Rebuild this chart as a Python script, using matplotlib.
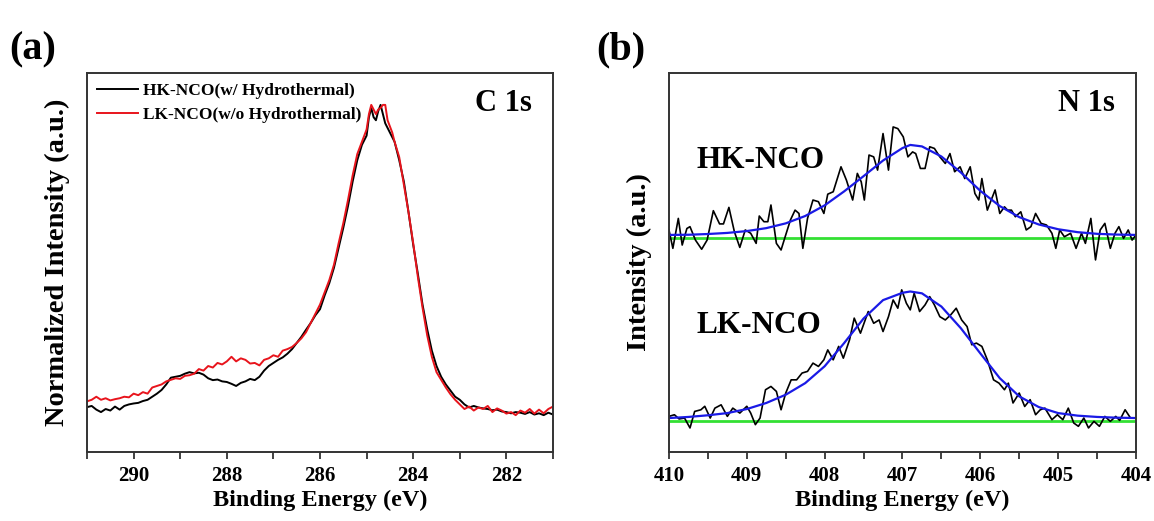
import matplotlib
matplotlib.use("Agg")
import matplotlib.pyplot as plt
from matplotlib.ticker import MultipleLocator

plt.rcParams['font.family'] = ['Liberation Serif', 'DejaVu Serif']
plt.rcParams['font.weight'] = 'bold'

# ---- (a) C 1s, normalized intensity ----
c1s_energy = [291.0, 290.9, 290.8, 290.7, 290.6, 290.5, 290.4, 290.3, 290.2, 290.1,
              290.0, 289.9, 289.8, 289.7, 289.6, 289.5, 289.4, 289.3, 289.2, 289.1,
              289.0, 288.9, 288.8, 288.7, 288.6, 288.5, 288.4, 288.3, 288.2, 288.1,
              288.0, 287.9, 287.8, 287.7, 287.6, 287.5, 287.4, 287.3, 287.2, 287.1,
              287.0, 286.9, 286.8, 286.7, 286.6, 286.5, 286.4, 286.3, 286.2, 286.1,
              286.0, 285.9, 285.8, 285.7, 285.6, 285.5, 285.4, 285.3, 285.2, 285.1,
              285.0, 284.95, 284.9, 284.85, 284.8, 284.75, 284.7, 284.65, 284.6, 284.55,
              284.5, 284.45, 284.4, 284.3, 284.2, 284.1, 284.0, 283.9, 283.8, 283.7,
              283.6, 283.5, 283.4, 283.3, 283.2, 283.1, 283.0, 282.9, 282.8, 282.7,
              282.6, 282.5, 282.4, 282.3, 282.2, 282.1, 282.0, 281.9, 281.8, 281.7,
              281.6, 281.5, 281.4, 281.3, 281.2, 281.1, 281.0]

hk_c1s = [0.016, 0.020, 0.008, 0.000, 0.010, 0.005, 0.018, 0.008, 0.020, 0.025,
          0.028, 0.030, 0.036, 0.040, 0.050, 0.060, 0.072, 0.090, 0.112, 0.115,
          0.118, 0.125, 0.130, 0.126, 0.128, 0.122, 0.110, 0.104, 0.106, 0.100,
          0.098, 0.092, 0.085, 0.095, 0.100, 0.108, 0.104, 0.115, 0.135, 0.150,
          0.160, 0.170, 0.178, 0.190, 0.205, 0.225, 0.245, 0.268, 0.290, 0.315,
          0.335, 0.380, 0.420, 0.470, 0.535, 0.600, 0.670, 0.750, 0.820, 0.870,
          0.900, 0.960, 0.990, 0.960, 0.950, 0.980, 1.000, 0.970, 0.940, 0.925,
          0.910, 0.895, 0.880, 0.820, 0.750, 0.650, 0.545, 0.450, 0.350, 0.270,
          0.200, 0.150, 0.115, 0.090, 0.070, 0.050, 0.040, 0.025, 0.015, 0.020,
          0.015, 0.012, 0.010, 0.006, 0.008, 0.002, 0.000, -0.004, 0.000, -0.002,
          -0.006, 0.000, -0.008, -0.004, -0.010, -0.002, -0.008]

lk_c1s = [0.035, 0.040, 0.050, 0.040, 0.045, 0.038, 0.042, 0.045, 0.050, 0.048,
          0.060, 0.055, 0.065, 0.060, 0.080, 0.085, 0.090, 0.100, 0.105, 0.110,
          0.108, 0.118, 0.120, 0.125, 0.140, 0.135, 0.150, 0.145, 0.160, 0.155,
          0.165, 0.180, 0.165, 0.175, 0.170, 0.158, 0.160, 0.152, 0.170, 0.175,
          0.185, 0.180, 0.200, 0.205, 0.212, 0.225, 0.240, 0.260, 0.290, 0.320,
          0.350, 0.390, 0.430, 0.480, 0.550, 0.615, 0.690, 0.770, 0.840, 0.880,
          0.920, 0.970, 1.000, 0.985, 0.970, 0.985, 0.990, 1.000, 1.000, 0.950,
          0.930, 0.910, 0.880, 0.830, 0.740, 0.650, 0.550, 0.440, 0.340, 0.250,
          0.180, 0.130, 0.105, 0.080, 0.058, 0.040, 0.025, 0.010, 0.018, 0.005,
          0.015, 0.010, 0.020, 0.000, 0.012, 0.005, -0.005, 0.000, -0.010, 0.005,
          -0.002, 0.010, -0.005, 0.008, -0.004, 0.010, 0.018]

# ---- (b) N 1s, raw spectra (relative to own baseline) ----
hk_n1s_energy = [410.00, 409.95, 409.88, 409.83, 409.77, 409.73, 409.66, 409.58, 409.51, 409.43,
                 409.35, 409.30, 409.23, 409.16, 409.09, 409.02, 408.95, 408.88, 408.84, 408.78,
                 408.73, 408.69, 408.62, 408.56, 408.50, 408.44, 408.38, 408.33, 408.28, 408.22,
                 408.15, 408.08, 408.01, 407.96, 407.89, 407.79, 407.72, 407.64, 407.58, 407.53,
                 407.49, 407.43, 407.37, 407.32, 407.25, 407.18, 407.12, 407.06, 406.99, 406.93,
                 406.87, 406.83, 406.77, 406.71, 406.65, 406.59, 406.52, 406.45, 406.39, 406.33,
                 406.26, 406.20, 406.13, 406.07, 406.02, 405.98, 405.91, 405.86, 405.81, 405.75,
                 405.69, 405.65, 405.60, 405.55, 405.48, 405.41, 405.35, 405.29, 405.22, 405.15,
                 405.08, 405.03, 404.98, 404.92, 404.84, 404.77, 404.70, 404.65, 404.58, 404.52,
                 404.46, 404.40, 404.33, 404.27, 404.22, 404.16, 404.10, 404.05, 404.00]
hk_n1s = [0.042, -0.058, 0.105, -0.040, 0.050, 0.060, -0.013, -0.063, -0.013, 0.147,
          0.075, 0.075, 0.165, 0.033, -0.053, 0.042, 0.024, -0.031, 0.118, 0.087,
          0.087, 0.178, -0.031, -0.067, 0.015, 0.096, 0.150, 0.132, -0.058, 0.105,
          0.205, 0.196, 0.132, 0.237, 0.250, 0.386, 0.313, 0.205, 0.350, 0.304,
          0.205, 0.450, 0.440, 0.368, 0.567, 0.368, 0.603, 0.594, 0.549, 0.440,
          0.467, 0.458, 0.377, 0.377, 0.495, 0.486, 0.440, 0.404, 0.458, 0.359,
          0.386, 0.322, 0.386, 0.241, 0.205, 0.322, 0.150, 0.205, 0.260, 0.132,
          0.168, 0.150, 0.150, 0.114, 0.141, 0.042, 0.060, 0.132, 0.078, 0.069,
          0.024, -0.058, 0.042, 0.005, 0.024, -0.058, 0.024, -0.031, 0.105, -0.121,
          0.042, 0.078, -0.058, 0.024, 0.060, -0.004, 0.042, -0.013, 0.015]

lk_n1s_energy = [410.00, 409.93, 409.87, 409.80, 409.73, 409.67, 409.59, 409.54, 409.47, 409.41,
                 409.33, 409.25, 409.18, 409.09, 409.00, 408.95, 408.89, 408.83, 408.76, 408.69,
                 408.62, 408.56, 408.50, 408.43, 408.36, 408.29, 408.22, 408.15, 408.08, 408.01,
                 407.96, 407.89, 407.82, 407.76, 407.68, 407.62, 407.54, 407.44, 407.37, 407.30,
                 407.25, 407.18, 407.12, 407.06, 407.01, 406.95, 406.90, 406.85, 406.78, 406.71,
                 406.65, 406.59, 406.52, 406.45, 406.38, 406.31, 406.24, 406.17, 406.11, 406.05,
                 405.98, 405.91, 405.83, 405.76, 405.69, 405.64, 405.58, 405.50, 405.43, 405.36,
                 405.29, 405.23, 405.17, 405.08, 405.01, 404.94, 404.87, 404.80, 404.74, 404.67,
                 404.61, 404.54, 404.47, 404.40, 404.33, 404.26, 404.21, 404.14, 404.07, 404.00]
lk_n1s = [0.027, 0.036, 0.013, 0.018, -0.036, 0.054, 0.063, 0.082, 0.018, 0.072,
          0.090, 0.027, 0.072, 0.045, 0.082, 0.045, -0.018, 0.018, 0.172, 0.190,
          0.163, 0.063, 0.154, 0.226, 0.226, 0.263, 0.272, 0.317, 0.299, 0.335,
          0.389, 0.335, 0.408, 0.344, 0.444, 0.562, 0.480, 0.598, 0.534, 0.552,
          0.489, 0.570, 0.661, 0.616, 0.716, 0.643, 0.607, 0.697, 0.598, 0.634,
          0.679, 0.634, 0.570, 0.552, 0.580, 0.616, 0.552, 0.516, 0.417, 0.426,
          0.408, 0.335, 0.226, 0.208, 0.172, 0.208, 0.100, 0.154, 0.081, 0.118,
          0.036, 0.063, 0.072, 0.009, 0.036, 0.009, 0.072, -0.009, -0.027, 0.018,
          -0.036, 0.000, -0.027, 0.027, 0.000, 0.027, 0.005, 0.063, 0.018, 0.018]

# ---- (b) fitted peaks ----
fit_energy = [410.00, 409.75, 409.50, 409.25, 409.00, 408.75, 408.50, 408.25, 408.00, 407.75,
              407.50, 407.25, 407.00, 406.90, 406.75, 406.50, 406.25, 406.00, 405.75, 405.50,
              405.25, 405.00, 404.75, 404.50, 404.25, 404.00]
hk_fit = [0.015, 0.016, 0.020, 0.026, 0.036, 0.052, 0.078, 0.118, 0.176, 0.252,
          0.335, 0.420, 0.488, 0.505, 0.497, 0.442, 0.355, 0.255, 0.172, 0.112,
          0.072, 0.046, 0.030, 0.021, 0.017, 0.015]
lk_fit = [0.018, 0.024, 0.033, 0.045, 0.067, 0.100, 0.145, 0.208, 0.300, 0.426,
          0.560, 0.660, 0.700, 0.707, 0.697, 0.625, 0.507, 0.370, 0.235, 0.136,
          0.078, 0.045, 0.031, 0.024, 0.020, 0.018]

hk_offset = 1.0
lk_offset = 0.0

fig = plt.figure(figsize=(11.54, 5.21), dpi=100)
ax1 = fig.add_axes([0.0754, 0.1324, 0.4038, 0.7276])
ax2 = fig.add_axes([0.5797, 0.1324, 0.4047, 0.7276])

ax1.plot(c1s_energy, hk_c1s, color='black', lw=1.4, label='HK-NCO(w/ Hydrothermal)')
ax1.plot(c1s_energy, lk_c1s, color='#e8141c', lw=1.4, label='LK-NCO(w/o Hydrothermal)')
ax1.set_xlim(291, 281)
ax1.set_ylim(-0.13, 1.104)
ax1.xaxis.set_major_locator(MultipleLocator(2))
ax1.xaxis.set_minor_locator(MultipleLocator(1))
ax1.set_ylabel('Normalized Intensity (a.u.)', fontsize=20.5, fontweight='bold', labelpad=12)
ax1.set_xlabel('Binding Energy (eV)', fontsize=17.5, fontweight='bold', labelpad=3)
ax1.text(0.955, 0.92, 'C 1s', transform=ax1.transAxes, ha='right', va='center',
         fontsize=22, fontweight='bold')
leg = ax1.legend(loc='upper left', frameon=False, fontsize=12.5, handlelength=2.4,
                 borderaxespad=0.15, handletextpad=0.3, labelspacing=0.45)
for t in leg.get_texts():
    t.set_fontweight('bold')

ax2.plot(hk_n1s_energy, [v + hk_offset for v in hk_n1s], color='black', lw=1.2)
ax2.plot(lk_n1s_energy, [v + lk_offset for v in lk_n1s], color='black', lw=1.2)
ax2.plot(fit_energy, [v + hk_offset for v in hk_fit], color='#1a1ae6', lw=1.6)
ax2.plot(fit_energy, [v + lk_offset for v in lk_fit], color='#1a1ae6', lw=1.6)
ax2.axhline(hk_offset, color='#33e033', lw=2.0, zorder=1)
ax2.axhline(lk_offset, color='#33e033', lw=2.0, zorder=1)
ax2.set_xlim(410, 404)
ax2.set_ylim(-0.167, 1.897)
ax2.xaxis.set_major_locator(MultipleLocator(1))
ax2.xaxis.set_minor_locator(MultipleLocator(0.5))
ax2.set_ylabel('Intensity (a.u.)', fontsize=20.5, fontweight='bold', labelpad=12)
ax2.set_xlabel('Binding Energy (eV)', fontsize=17.5, fontweight='bold', labelpad=3)
ax2.text(0.955, 0.92, 'N 1s', transform=ax2.transAxes, ha='right', va='center',
         fontsize=22, fontweight='bold')
ax2.text(0.06, 0.77, 'HK-NCO', transform=ax2.transAxes, ha='left', va='center',
         fontsize=22.5, fontweight='bold')
ax2.text(0.06, 0.335, 'LK-NCO', transform=ax2.transAxes, ha='left', va='center',
         fontsize=22.5, fontweight='bold')

for ax in (ax1, ax2):
    ax.set_yticks([])
    for s in ax.spines.values():
        s.set_linewidth(1.4)
        s.set_color('#333333')
    ax.tick_params(axis='x', which='both', direction='out', length=5, width=1.3,
                   top=False, labelsize=15, pad=5, color='#333333')
    for lbl in ax.get_xticklabels():
        lbl.set_fontweight('bold')

fig.text(0.008, 0.905, '(a)', fontsize=29, fontweight='bold', va='center', ha='left')
fig.text(0.517, 0.905, '(b)', fontsize=29, fontweight='bold', va='center', ha='left')

fig.savefig('out.png', dpi=100)
